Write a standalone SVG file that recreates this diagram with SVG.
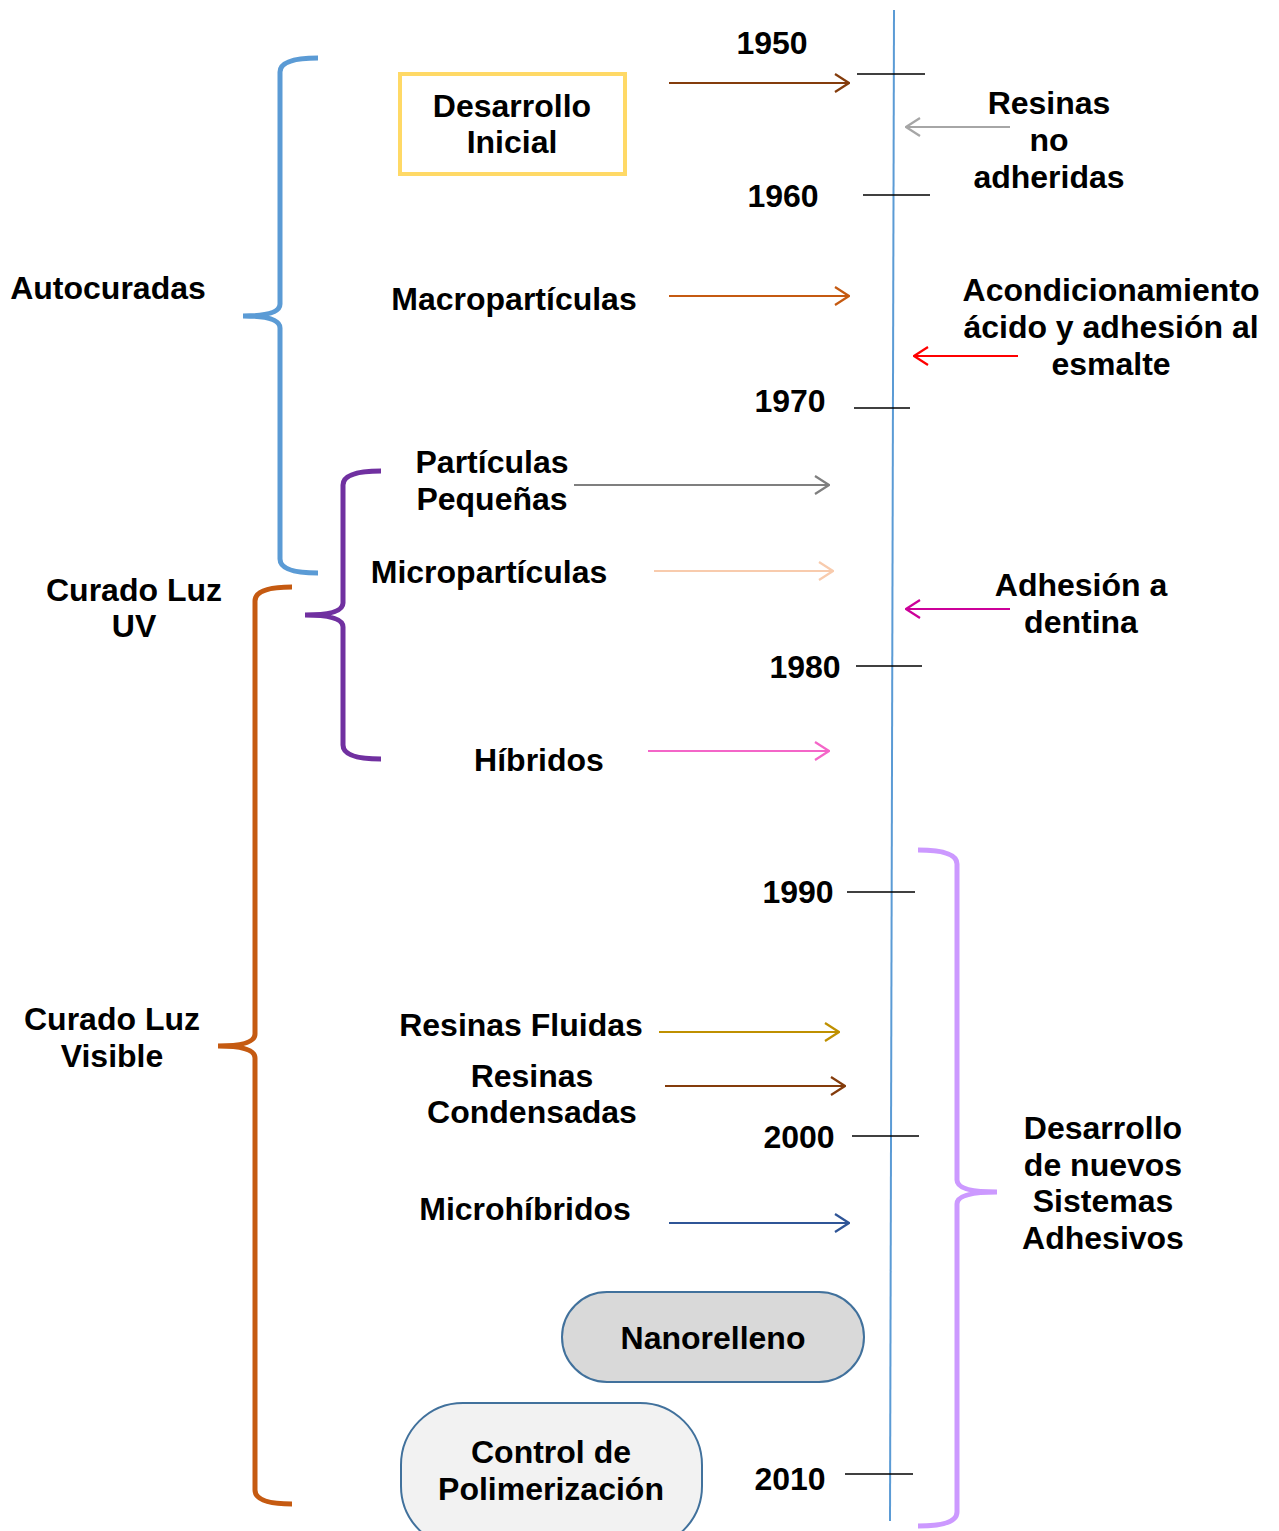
<svg xmlns="http://www.w3.org/2000/svg" width="1279" height="1531" viewBox="0 0 1279 1531">
<style>
text{font-family:"Liberation Sans",Arial,sans-serif;font-weight:bold;font-size:32px;fill:#000;text-anchor:middle}
.brace{fill:none;stroke-width:5;stroke-linecap:butt}
.tick{stroke:#000;stroke-width:1.3}
.arr{stroke-width:2;fill:none}
</style>
<defs>
<marker id="m-brown" viewBox="0 0 16 20" refX="15" refY="10" markerWidth="16" markerHeight="20" markerUnits="userSpaceOnUse" orient="auto"><path d="M1,1 L15,10 L1,19" fill="none" stroke="#843C0C" stroke-width="2.2"/></marker>
<marker id="m-orange" viewBox="0 0 16 20" refX="15" refY="10" markerWidth="16" markerHeight="20" markerUnits="userSpaceOnUse" orient="auto"><path d="M1,1 L15,10 L1,19" fill="none" stroke="#C55A11" stroke-width="2.2"/></marker>
<marker id="m-gray" viewBox="0 0 16 20" refX="15" refY="10" markerWidth="16" markerHeight="20" markerUnits="userSpaceOnUse" orient="auto"><path d="M1,1 L15,10 L1,19" fill="none" stroke="#7F7F7F" stroke-width="2.2"/></marker>
<marker id="m-peach" viewBox="0 0 16 20" refX="15" refY="10" markerWidth="16" markerHeight="20" markerUnits="userSpaceOnUse" orient="auto"><path d="M1,1 L15,10 L1,19" fill="none" stroke="#F8CBAD" stroke-width="2.2"/></marker>
<marker id="m-pink" viewBox="0 0 16 20" refX="15" refY="10" markerWidth="16" markerHeight="20" markerUnits="userSpaceOnUse" orient="auto"><path d="M1,1 L15,10 L1,19" fill="none" stroke="#F466C8" stroke-width="2.2"/></marker>
<marker id="m-gold" viewBox="0 0 16 20" refX="15" refY="10" markerWidth="16" markerHeight="20" markerUnits="userSpaceOnUse" orient="auto"><path d="M1,1 L15,10 L1,19" fill="none" stroke="#BF9000" stroke-width="2.2"/></marker>
<marker id="m-blue" viewBox="0 0 16 20" refX="15" refY="10" markerWidth="16" markerHeight="20" markerUnits="userSpaceOnUse" orient="auto"><path d="M1,1 L15,10 L1,19" fill="none" stroke="#2F5597" stroke-width="2.2"/></marker>
<marker id="m-lgray" viewBox="0 0 16 20" refX="15" refY="10" markerWidth="16" markerHeight="20" markerUnits="userSpaceOnUse" orient="auto"><path d="M1,1 L15,10 L1,19" fill="none" stroke="#A6A6A6" stroke-width="2.2"/></marker>
<marker id="m-red" viewBox="0 0 16 20" refX="15" refY="10" markerWidth="16" markerHeight="20" markerUnits="userSpaceOnUse" orient="auto"><path d="M1,1 L15,10 L1,19" fill="none" stroke="#FF0000" stroke-width="2.2"/></marker>
<marker id="m-mag" viewBox="0 0 16 20" refX="15" refY="10" markerWidth="16" markerHeight="20" markerUnits="userSpaceOnUse" orient="auto"><path d="M1,1 L15,10 L1,19" fill="none" stroke="#CC0099" stroke-width="2.2"/></marker>
</defs>
<rect width="1279" height="1531" fill="#fff"/>

<g id="timeline">
<line x1="894" y1="10" x2="890" y2="1521" stroke="#5B9BD5" stroke-width="2"/>
<line class="tick" x1="857" y1="74" x2="925" y2="74"/>
<line class="tick" x1="863" y1="195" x2="930" y2="195"/>
<line class="tick" x1="854" y1="408" x2="910" y2="408"/>
<line class="tick" x1="856" y1="666" x2="922" y2="666"/>
<line class="tick" x1="847" y1="892" x2="915" y2="892"/>
<line class="tick" x1="852" y1="1136" x2="919" y2="1136"/>
<line class="tick" x1="845" y1="1474" x2="913" y2="1474"/>
<text x="772" y="54">1950</text>
<text x="783" y="207">1960</text>
<text x="790" y="412">1970</text>
<text x="805" y="678">1980</text>
<text x="798" y="903">1990</text>
<text x="799" y="1148">2000</text>
<text x="790" y="1490">2010</text>
</g>

<g id="brace-autocuradas">
<path class="brace" stroke="#5B9BD5" d="M318,58 Q280,58 280,72 L280,304 Q280,316 243,316 Q280,316 280,328 L280,559 Q280,573 318,573"/>
<text x="108" y="299">Autocuradas</text>
</g>
<g id="brace-uv">
<path class="brace" stroke="#7030A0" d="M381,471 Q343,471 343,485 L343,603 Q343,615 305,615 Q343,615 343,627 L343,745 Q343,759 381,759"/>
<text x="134" y="601">Curado Luz</text>
<text x="134" y="637">UV</text>
</g>
<g id="brace-visible">
<path class="brace" stroke="#C55A11" d="M292,587 Q255,587 255,601 L255,1034 Q255,1046 218,1046 Q255,1046 255,1058 L255,1490 Q255,1504 292,1504"/>
<text x="112" y="1030">Curado Luz</text>
<text x="112" y="1067">Visible</text>
</g>
<g id="brace-adhesivos">
<path class="brace" stroke="#CC99FF" d="M918,850 Q957,850 957,864 L957,1180 Q957,1192 997,1192 Q957,1192 957,1204 L957,1512 Q957,1526 918,1526"/>
<text x="1103" y="1139">Desarrollo</text>
<text x="1103" y="1176">de nuevos</text>
<text x="1103" y="1212">Sistemas</text>
<text x="1103" y="1249">Adhesivos</text>
</g>

<g id="node-desarrollo-inicial">
<rect x="400" y="74" width="225" height="100" fill="#fff" stroke="#FFD966" stroke-width="4"/>
<text x="512" y="117">Desarrollo</text>
<text x="512" y="153">Inicial</text>
</g>
<g id="node-resinas-no-adheridas">
<text x="1049" y="114">Resinas</text>
<text x="1049" y="151">no</text>
<text x="1049" y="188">adheridas</text>
</g>
<g id="node-macroparticulas"><text x="514" y="310">Macropartículas</text></g>
<g id="node-acondicionamiento">
<text x="1111" y="301">Acondicionamiento</text>
<text x="1111" y="338">ácido y adhesión al</text>
<text x="1111" y="375">esmalte</text>
</g>
<g id="node-particulas-pequenas">
<text x="492" y="473">Partículas</text>
<text x="492" y="510">Pequeñas</text>
</g>
<g id="node-microparticulas"><text x="489" y="583">Micropartículas</text></g>
<g id="node-adhesion-dentina">
<text x="1081" y="596">Adhesión a</text>
<text x="1081" y="633">dentina</text>
</g>
<g id="node-hibridos"><text x="539" y="771">Híbridos</text></g>
<g id="node-resinas-fluidas"><text x="521" y="1036">Resinas Fluidas</text></g>
<g id="node-resinas-condensadas">
<text x="532" y="1087">Resinas</text>
<text x="532" y="1123">Condensadas</text>
</g>
<g id="node-microhibridos"><text x="525" y="1220">Microhíbridos</text></g>
<g id="node-nanorelleno">
<rect x="562" y="1292" width="302" height="90" rx="45" fill="#D9D9D9" stroke="#41719C" stroke-width="2"/>
<text x="713" y="1349">Nanorelleno</text>
</g>
<g id="node-control">
<rect x="401" y="1403" width="301" height="145" rx="62" fill="#F2F2F2" stroke="#41719C" stroke-width="2"/>
<text x="551" y="1463">Control de</text>
<text x="551" y="1500">Polimerización</text>
</g>

<g id="connectors" class="arr">
<line x1="669" y1="83" x2="849" y2="83" stroke="#843C0C" stroke-width="2" marker-end="url(#m-brown)"/>
<line x1="669" y1="296" x2="849" y2="296" stroke="#C55A11" stroke-width="2" marker-end="url(#m-orange)"/>
<line x1="574" y1="485" x2="829" y2="485" stroke="#7F7F7F" stroke-width="2" marker-end="url(#m-gray)"/>
<line x1="654" y1="571" x2="833" y2="571" stroke="#F8CBAD" stroke-width="2" marker-end="url(#m-peach)"/>
<line x1="648" y1="751" x2="829" y2="751" stroke="#F466C8" stroke-width="2" marker-end="url(#m-pink)"/>
<line x1="659" y1="1032" x2="839" y2="1032" stroke="#BF9000" stroke-width="2" marker-end="url(#m-gold)"/>
<line x1="665" y1="1086" x2="845" y2="1086" stroke="#843C0C" stroke-width="2" marker-end="url(#m-brown)"/>
<line x1="669" y1="1223" x2="849" y2="1223" stroke="#2F5597" stroke-width="2" marker-end="url(#m-blue)"/>
<line x1="1010" y1="127" x2="906" y2="127" stroke="#A6A6A6" stroke-width="2" marker-end="url(#m-lgray)"/>
<line x1="1018" y1="356" x2="914" y2="356" stroke="#FF0000" stroke-width="2" marker-end="url(#m-red)"/>
<line x1="1010" y1="609" x2="906" y2="609" stroke="#CC0099" stroke-width="2" marker-end="url(#m-mag)"/>
</g>
</svg>
